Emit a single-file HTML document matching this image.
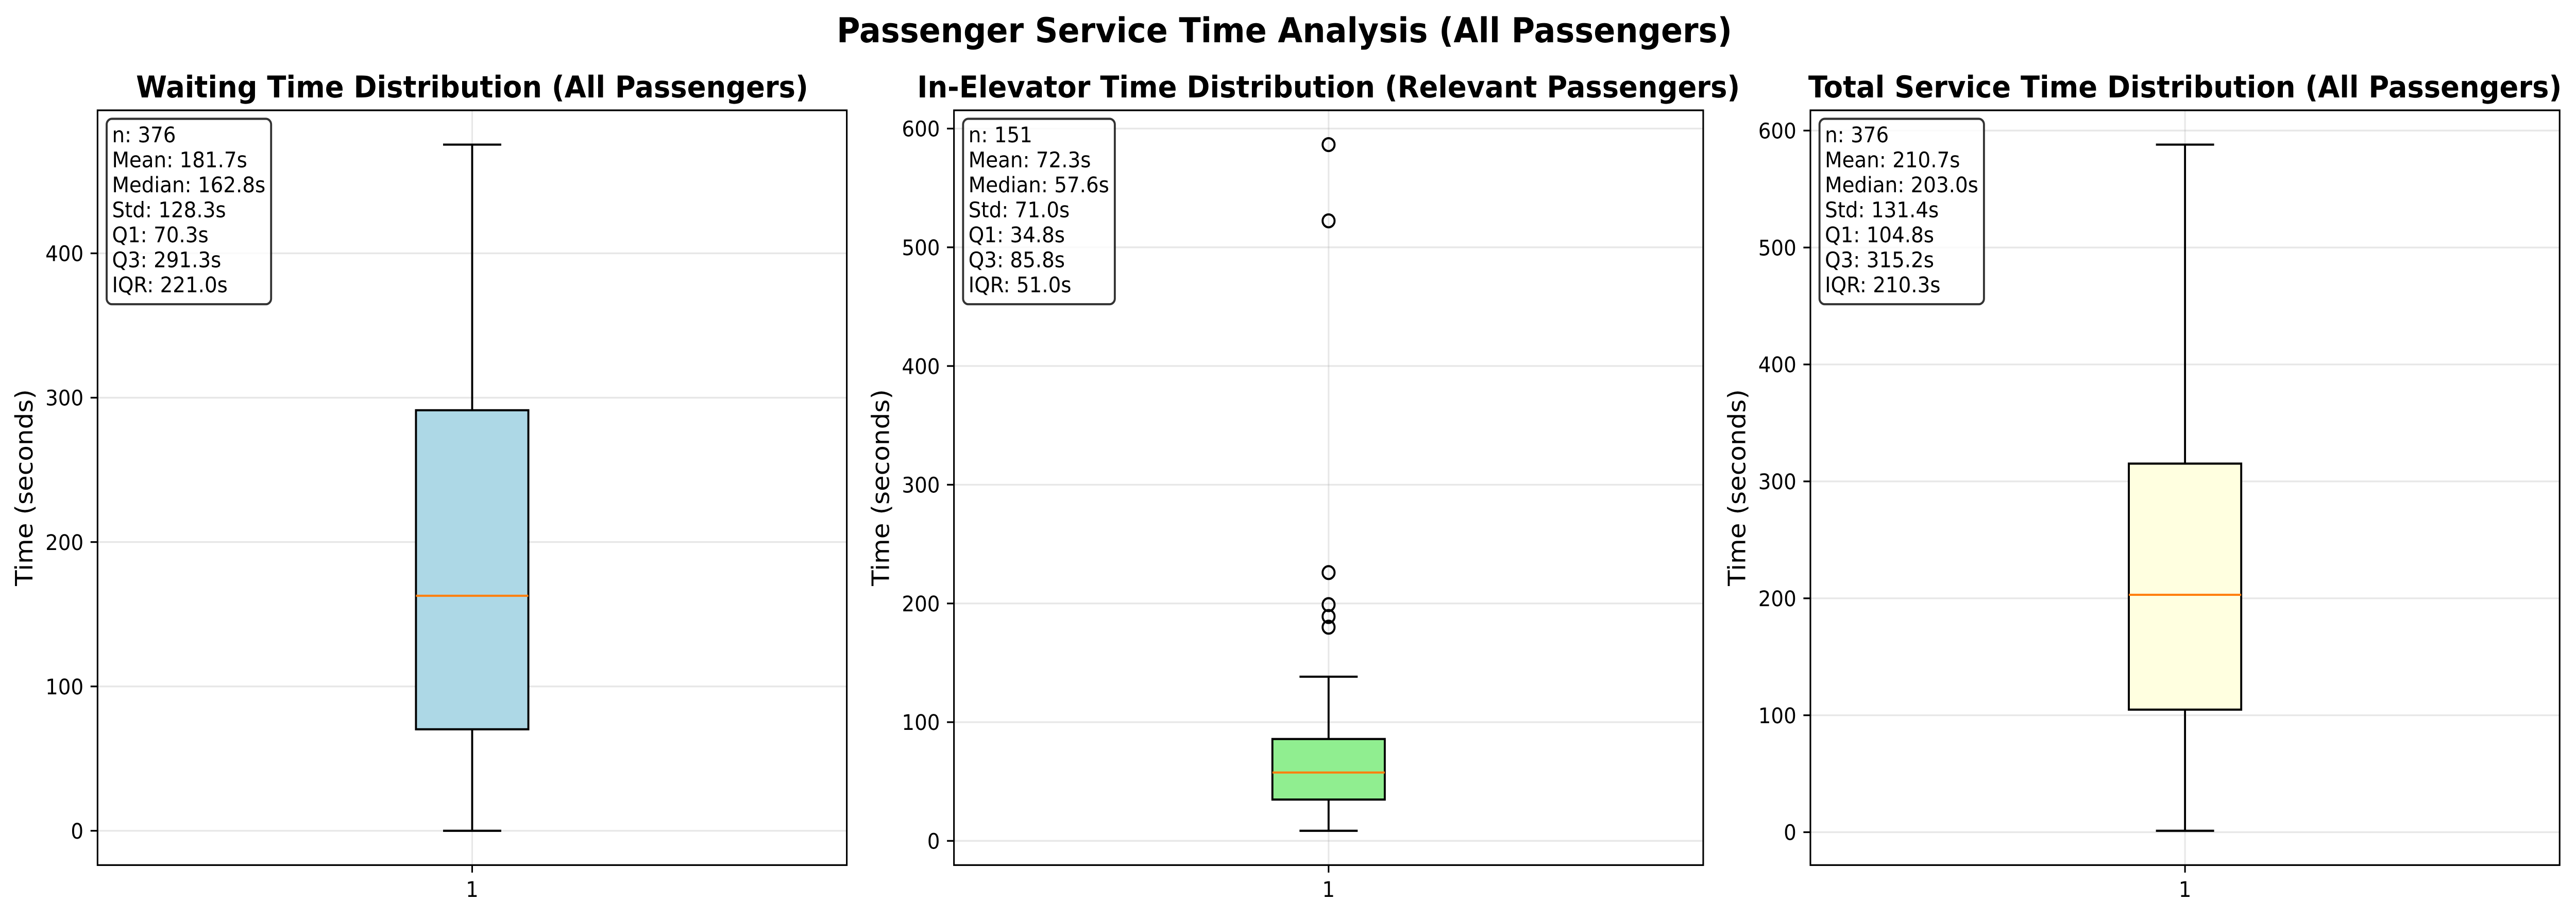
<!DOCTYPE html>
<html lang="en">
<head>
<meta charset="utf-8">
<title>Passenger Service Time Analysis (All Passengers)</title>
<style>
  html, body { margin: 0; padding: 0; background: #fff; width: 100%; height: 100%; overflow: hidden; }
  svg { display: block; width: 100vw; height: 100vh; font-family: "DejaVu Sans", "Liberation Sans", sans-serif; text-rendering: geometricPrecision; }
  .suptitle { font-size: 66.67px; font-weight: 700; text-anchor: middle; }
  .title { font-size: 58.33px; font-weight: 700; text-anchor: middle; }
  .ylabel { font-size: 50px; text-anchor: middle; }
  .tick { font-size: 41.67px; }
  .stat { font-size: 41.67px; }
</style>
</head>
<body>
<svg id="figure" xmlns="http://www.w3.org/2000/svg" viewBox="0 0 5369 1779" preserveAspectRatio="none">
  <rect x="0" y="0" width="5369" height="1779" fill="#ffffff"/>
  <text class="suptitle" x="2677" y="82">Passenger Service Time Analysis (All Passengers)</text>

  <g id="panel-0"></g>
  <text class="title" x="984.1" y="189">Waiting Time Distribution (All Passengers)</text>
  <text class="ylabel" transform="translate(67.7 946) rotate(-90)">Time (seconds)</text>

  <g id="panel-1"></g>
  <text class="title" x="2769.1" y="189">In-Elevator Time Distribution (Relevant Passengers)</text>
  <text class="ylabel" transform="translate(1852.7 946) rotate(-90)">Time (seconds)</text>

  <g id="panel-2"></g>
  <text class="title" x="4554.1" y="189">Total Service Time Distribution (All Passengers)</text>
  <text class="ylabel" transform="translate(3637.7 946) rotate(-90)">Time (seconds)</text>
</svg>

<script>
// ---- Chart data ----
const panelKeys = ['waiting-time', 'in-elevator-time', 'total-service-time'];
const boxColors = ['#add8e6', '#90ee90', '#ffffe0'];
const categoryLabels = ['1'];

const whiskerLow = [0, 8.5, 1.2];
const q1Values = [70.3, 34.8, 104.8];
const medianValues = [162.8, 57.6, 203.0];
const q3Values = [291.3, 85.8, 315.2];
const whiskerHigh = [475.3, 138.3, 588];
const outlierValues = [[], [180, 189, 199, 226, 522.3, 586.5], []];

const yTicksWaiting = [0, 100, 200, 300, 400];
const yTicksInElevator = [0, 100, 200, 300, 400, 500, 600];
const yTicksTotal = [0, 100, 200, 300, 400, 500, 600];
const yTickSets = [yTicksWaiting, yTicksInElevator, yTicksTotal];

const statCounts = ['376', '151', '376'];
const statMeans = ['181.7', '72.3', '210.7'];
const statMedians = ['162.8', '57.6', '203.0'];
const statStds = ['128.3', '71.0', '131.4'];
const statQ1s = ['70.3', '34.8', '104.8'];
const statQ3s = ['291.3', '85.8', '315.2'];
const statIqrs = ['221.0', '51.0', '210.3'];

// ---- Layout constants ----
const AX_TOP = 214;
const AX_BOTTOM = 1678.3;
const AX_WIDTH = 1561.6;
const AX_LEFTS = [203.3, 1988.3, 3773.3];
const LW_SPINE = 3.33;
const LW_BOX = 4.17;
const NS = 'http://www.w3.org/2000/svg';

function shape(tag, parent, attrs, content) {
  const el = document.createElementNS(NS, tag);
  for (const key in attrs) el.setAttribute(key, attrs[key]);
  if (content !== undefined) el.textContent = content;
  parent.appendChild(el);
  return el;
}

// Axis functions: matplotlib style 5% margins around the plotted data.
function yScaleFor(i) {
  const all = [whiskerLow[i], whiskerHigh[i]].concat(outlierValues[i]);
  const lo = Math.min.apply(null, all);
  const hi = Math.max.apply(null, all);
  const pad = (hi - lo) * 0.05;
  const d0 = lo - pad;
  const d1 = hi + pad;
  return function (v) {
    return AX_BOTTOM - (v - d0) / (d1 - d0) * (AX_BOTTOM - AX_TOP);
  };
}
function xScaleFor(i) {
  // x axis runs from 0.5 to 1.5 around the single box at position 1
  return function (v) {
    return AX_LEFTS[i] + (v - 0.5) * AX_WIDTH;
  };
}

panelKeys.forEach(function (key, i) {
  const g = document.getElementById('panel-' + i);
  const y = yScaleFor(i);
  const x = xScaleFor(i);
  const left = AX_LEFTS[i];
  const right = left + AX_WIDTH;
  const cx = x(1);
  const boxX0 = x(1 - 0.075);
  const boxX1 = x(1 + 0.075);
  const capX0 = x(1 - 0.0375);
  const capX1 = x(1 + 0.0375);

  // axes background
  const bg = shape('rect', g, { x: left, y: AX_TOP, width: AX_WIDTH, height: AX_BOTTOM - AX_TOP, fill: '#ffffff' });
  
  

  // horizontal grid, y ticks and y tick labels
  yTickSets[i].forEach(function (t) {
    const gy = y(t);
    const grid = shape('line', g, { x1: left, x2: right, y1: gy, y2: gy, stroke: '#b0b0b0', 'stroke-opacity': 0.3, 'stroke-width': LW_SPINE });
    
    
    const tk = shape('line', g, { x1: left - 14.58, x2: left, y1: gy, y2: gy, stroke: '#000', 'stroke-width': LW_SPINE });
    
    
    const lb = shape('text', g, { class: 'tick', x: left - 29.2, y: gy + 15.2, 'text-anchor': 'end' }, String(t));
    
    
  });

  // vertical grid, x tick and x tick label
  const vgrid = shape('line', g, { x1: cx, x2: cx, y1: AX_TOP, y2: AX_BOTTOM, stroke: '#b0b0b0', 'stroke-opacity': 0.3, 'stroke-width': LW_SPINE });
  
  
  const xt = shape('line', g, { x1: cx, x2: cx, y1: AX_BOTTOM, y2: AX_BOTTOM + 14.58, stroke: '#000', 'stroke-width': LW_SPINE });
  
  
  const xl = shape('text', g, { class: 'tick', x: cx, y: 1740, 'text-anchor': 'middle' }, categoryLabels[0]);
  
  

  // whiskers and caps
  const wLow = shape('line', g, { x1: cx, x2: cx, y1: y(q1Values[i]), y2: y(whiskerLow[i]), stroke: '#000', 'stroke-width': LW_BOX });
  
  
  const wHigh = shape('line', g, { x1: cx, x2: cx, y1: y(q3Values[i]), y2: y(whiskerHigh[i]), stroke: '#000', 'stroke-width': LW_BOX });
  
  
  const cLow = shape('line', g, { x1: capX0, x2: capX1, y1: y(whiskerLow[i]), y2: y(whiskerLow[i]), stroke: '#000', 'stroke-width': LW_BOX, 'stroke-linecap': 'square' });
  
  
  const cHigh = shape('line', g, { x1: capX0, x2: capX1, y1: y(whiskerHigh[i]), y2: y(whiskerHigh[i]), stroke: '#000', 'stroke-width': LW_BOX, 'stroke-linecap': 'square' });
  
  

  // interquartile box
  const box = shape('rect', g, { x: boxX0, y: y(q3Values[i]), width: boxX1 - boxX0, height: y(q1Values[i]) - y(q3Values[i]), fill: boxColors[i], stroke: '#000', 'stroke-width': LW_BOX });
  
  

  // median
  const med = shape('line', g, { x1: boxX0, x2: boxX1, y1: y(medianValues[i]), y2: y(medianValues[i]), stroke: '#ff7f0e', 'stroke-width': LW_BOX });
  
  

  // outliers
  outlierValues[i].forEach(function (v) {
    const o = shape('circle', g, { cx: cx, cy: y(v), r: 12.5, fill: 'none', stroke: '#000', 'stroke-width': LW_BOX });
    
    
  });

  // spines
  const spine = shape('rect', g, { x: left, y: AX_TOP, width: AX_WIDTH, height: AX_BOTTOM - AX_TOP, fill: 'none', stroke: '#000', 'stroke-width': LW_SPINE });
  
  

  // statistics box
  const lines = [
    'n: ' + statCounts[i],
    'Mean: ' + statMeans[i] + 's',
    'Median: ' + statMedians[i] + 's',
    'Std: ' + statStds[i] + 's',
    'Q1: ' + statQ1s[i] + 's',
    'Q3: ' + statQ3s[i] + 's',
    'IQR: ' + statIqrs[i] + 's'
  ];
  const statBox = shape('rect', g, { x: left + 19, y: 230.5, width: 343, height: 359.7, rx: 11, ry: 11, fill: '#ffffff', 'fill-opacity': 0.8, stroke: '#000', 'stroke-opacity': 0.8, 'stroke-width': LW_BOX });
  
  
  let maxLen = 0;
  lines.forEach(function (txt, k) {
    const s = shape('text', g, { class: 'stat', x: left + 30.2, y: 276 + 48.5 * k }, txt);
    
    
    maxLen = Math.max(maxLen, s.getComputedTextLength());
  });
  if (maxLen > 0) statBox.setAttribute('width', maxLen + 23);
});
</script>
</body>
</html>
